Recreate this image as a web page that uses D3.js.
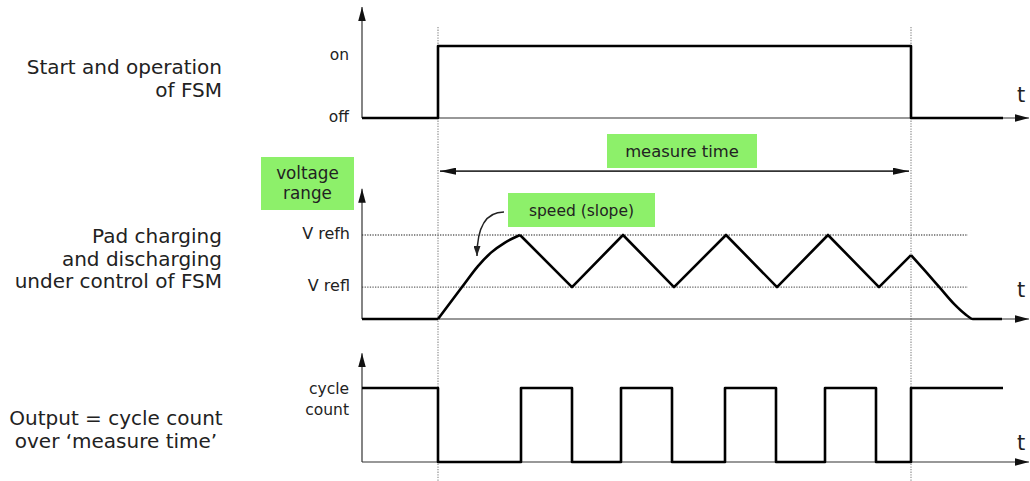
<!DOCTYPE html>
<html><head><meta charset="utf-8">
<script src="https://cdn.jsdelivr.net/npm/d3@7"></script>
<style>
html,body{margin:0;padding:0;background:#fff;}
svg{display:block;font-family:"DejaVu Sans",Verdana,sans-serif;}
</style></head>
<body>
<svg id="c" width="1030" height="481"></svg>
<script>
// ---- data (time in arbitrary units, measure time from 0 to 47.3) ----
const tDomain = [-7.6, 59.2];
const measureStart = 0, measureEnd = 47.3;

const fsmTimes  = [-7.6, 0, 47.3, 56.5];
const fsmStates = [0, 1, 0, 0];
const fsmTickValues = [0, 1];
const fsmTickLabels = ["off", "on"];

const vRefl = 0.38, vRefh = 1.0;
// first charge (smooth curve)
const riseTimes   = [0, 2.4, 4.0, 5.3, 6.7, 8.2];
const riseVoltage = [0, 0.38, 0.63, 0.79, 0.91, 1.0];
// subsequent discharge / charge cycles
const padTimes   = [-7.6, 0];
const padVoltage = [0, 0];
const cycTimes   = [8.2, 13.4, 18.5, 23.6, 28.8, 33.9, 39.0, 44.1, 47.3];
const cycVoltage = [1.0, 0.38, 1.0, 0.38, 1.0, 0.38, 1.0, 0.38, 0.76];
// final discharge after FSM stop
const fallTimes   = [47.3, 48.8, 50.2, 51.6, 52.7, 53.5, 56.4];
const fallVoltage = [0.76, 0.56, 0.37, 0.18, 0.06, 0, 0];
const padTickValues = [vRefl, vRefh];
const padTickLabels = ["V refl", "V refh"];

const cycleTimes  = [-7.6, 0, 8.3, 13.4, 18.3, 23.4, 28.7, 33.8, 38.7, 43.8, 47.3, 56.5];
const cycleStates = [1, 0, 1, 0, 1, 0, 1, 0, 1, 0, 1, 1];
const cycleTickLabel = ["cycle", "count"];

const rowLabels = [
  ["Start and operation", "of FSM"],
  ["Pad charging", "and discharging", "under control of FSM"],
  ["Output = cycle count", "over \u2018measure time\u2019"]
];

// ---- layout ----
const svg = d3.select("#c");
const x = d3.scaleLinear().domain(tDomain).range([362, 1030]);
const yTop = d3.scaleLinear().domain([0, 1]).range([118, 46]);
const yMid = d3.scaleLinear().domain([0, 1]).range([319, 235]);
const yBot = d3.scaleLinear().domain([0, 1]).range([462, 388]);

const defs = svg.append("defs");
function marker(id, len, hw, color) {
  defs.append("marker").attr("id", id)
    .attr("viewBox", `0 ${-hw} ${len} ${2*hw}`)
    .attr("refX", len).attr("refY", 0)
    .attr("markerUnits", "userSpaceOnUse")
    .attr("markerWidth", len).attr("markerHeight", 2*hw)
    .attr("orient", "auto-start-reverse")
    .append("path").attr("d", `M0,${-hw}L${len},0L0,${hw}Z`).attr("fill", color);
}
marker("ax", 14, 3.8, "#111");
marker("mt", 16, 3.5, "#111");
marker("sp", 10, 3.5, "#222");

const green = "#8df06a";
const textCol = "#222";

// vertical dotted guide lines
svg.selectAll("line.guide").data([measureStart, measureEnd]).join("line")
  .attr("class", "guide")
  .attr("x1", d => x(d)).attr("x2", d => x(d))
  .attr("y1", 27).attr("y2", 481)
  .attr("stroke", "#999").attr("stroke-width", 1.3).attr("stroke-dasharray", "1.3,1.3");

// reference voltage dotted lines
svg.selectAll("line.ref").data(padTickValues).join("line")
  .attr("class", "ref")
  .attr("x1", x(tDomain[0])).attr("x2", x(53.0))
  .attr("y1", d => yMid(d)).attr("y2", d => yMid(d))
  .attr("stroke", "#666").attr("stroke-width", 1.3).attr("stroke-dasharray", "1.3,1.3");

// axes
function axes(y, topVal, tLabelBaseline) {
  svg.append("line").attr("x1", x(tDomain[0])).attr("x2", x(tDomain[0]))
    .attr("y1", y(0)).attr("y2", y(topVal))
    .attr("stroke", "#333").attr("stroke-width", 1.2).attr("marker-end", "url(#ax)");
  svg.append("line").attr("x1", x(tDomain[0])).attr("x2", x(tDomain[1]) - 1)
    .attr("y1", y(0)).attr("y2", y(0))
    .attr("stroke", "#333").attr("stroke-width", 1.2).attr("marker-end", "url(#ax)");
  svg.append("text").attr("x", 1017).attr("y", tLabelBaseline)
    .attr("font-size", 21).attr("fill", textCol).text("t");
}
axes(yTop, 1.54, 102);
axes(yMid, 1.55, 297);
axes(yBot, 1.47, 450);

// tick labels
svg.selectAll("text.fsmTick").data(fsmTickValues).join("text")
  .attr("class", "fsmTick").attr("x", 349).attr("y", d => yTop(d) + (d === 0 ? 4 : 14))
  .attr("text-anchor", "end").attr("font-size", 15.5).attr("fill", textCol)
  .text((d, i) => fsmTickLabels[i]);
svg.selectAll("text.padTick").data(padTickValues).join("text")
  .attr("class", "padTick").attr("x", 350).attr("y", d => yMid(d) + 4)
  .attr("text-anchor", "end").attr("font-size", 16).attr("fill", textCol)
  .text((d, i) => padTickLabels[i]);
svg.append("text").attr("x", 349).attr("y", yBot(1) + 6)
  .attr("text-anchor", "end").attr("font-size", 15.5).attr("fill", textCol)
  .selectAll("tspan").data(cycleTickLabel).join("tspan")
  .attr("x", 349).attr("dy", (d, i) => i === 0 ? 0 : 21).text(d => d);

// signals
const sig = sel => sel.attr("fill", "none").attr("stroke", "#000").attr("stroke-width", 2.6)
  .attr("stroke-linejoin", "round").attr("stroke-linecap", "butt");
const stepLine = y => d3.line().x(d => x(d[0])).y(d => y(d[1])).curve(d3.curveStepAfter);
svg.append("path").datum(d3.zip(fsmTimes, fsmStates)).attr("d", stepLine(yTop)).call(sig);

const padLine = c => d3.line().x(d => x(d[0])).y(d => yMid(d[1])).curve(c);
svg.append("path").datum(d3.zip(padTimes, padVoltage)).attr("d", padLine(d3.curveLinear)).call(sig);
svg.append("path").datum(d3.zip(riseTimes, riseVoltage)).attr("d", padLine(d3.curveMonotoneX)).call(sig);
svg.append("path").datum(d3.zip(cycTimes, cycVoltage)).attr("d", padLine(d3.curveLinear)).call(sig);
svg.append("path").datum(d3.zip(fallTimes, fallVoltage)).attr("d", padLine(d3.curveMonotoneX)).call(sig);

svg.append("path").datum(d3.zip(cycleTimes, cycleStates)).attr("d", stepLine(yBot)).call(sig);

// measure time arrow
svg.append("line").attr("x1", x(measureStart) + 2).attr("x2", x(measureEnd) - 2)
  .attr("y1", yMid(1.76)).attr("y2", yMid(1.76))
  .attr("stroke", "#333").attr("stroke-width", 1.6)
  .attr("marker-start", "url(#mt)").attr("marker-end", "url(#mt)");

// green labels
function box(x0, y0, w, h, lines, fs, baselines) {
  svg.append("rect").attr("x", x0).attr("y", y0).attr("width", w).attr("height", h).attr("fill", green);
  lines.forEach((l, i) => svg.append("text").attr("x", x0 + w / 2).attr("y", baselines[i])
    .attr("text-anchor", "middle").attr("font-size", fs).attr("fill", textCol).text(l));
}
box(607, 134, 150, 34, ["measure time"], 16.4, [157]);
box(261, 157, 93, 53, ["voltage", "range"], 16.8, [179, 199]);
box(508, 193, 147, 34, ["speed (slope)"], 15.5, [216]);

// speed curved arrow
svg.append("path").attr("d", "M504,212 C486,212 477,226 477,256")
  .attr("fill", "none").attr("stroke", "#222").attr("stroke-width", 1.5).attr("marker-end", "url(#sp)");

// row labels
const rowY = [74, 243, 425];
const rowAnchor = ["end", "end", "middle"];
const rowX = [222, 222, 116];
rowLabels.forEach((lines, r) => {
  svg.append("text").attr("x", rowX[r]).attr("y", rowY[r]).attr("text-anchor", rowAnchor[r])
    .attr("font-size", 20).attr("fill", textCol)
    .selectAll("tspan").data(lines).join("tspan")
    .attr("x", rowX[r]).attr("dy", (d, i) => i === 0 ? 0 : 22.5).text(d => d);
});
</script>
</body></html>
